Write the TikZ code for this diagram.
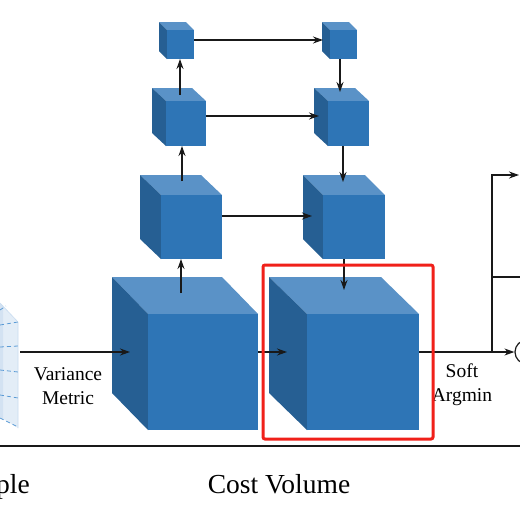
\documentclass[tikz,border=0pt]{standalone}
\usepackage{fontspec}
\setmainfont{Liberation Serif}
\usetikzlibrary{arrows.meta}
\definecolor{frontc}{HTML}{2E75B6}
\definecolor{topc}{HTML}{5A92C7}
\definecolor{sidec}{HTML}{265F93}
\definecolor{planec}{HTML}{DDE9F6}
\definecolor{planedk}{HTML}{C9DCF0}
\definecolor{dashc}{HTML}{5B9BD5}
\definecolor{boxred}{HTML}{F0201A}
\tikzset{
  frontface/.style={fill=frontc, inner sep=0pt, outer sep=0pt, draw=none},
  conn/.style={draw=black!90, line width=1.2pt, -{Stealth[length=10pt,width=7pt]}},
  plainline/.style={draw=black!90, line width=1.2pt},
  lbl/.style={font=\fontsize{19.5}{24}\selectfont, align=center, inner sep=0pt},
  biglbl/.style={font=\fontsize{27.5}{32}\selectfont, inner sep=0pt},
}
\newcommand\mycube[7]{%
  \fill[topc] ({#2-#6},{#3-#7}) -- ({#4-#6},{#3-#7}) -- (#4,#3) -- (#2,#3) -- cycle;
  \fill[sidec] ({#2-#6},{#3-#7}) -- (#2,#3) -- (#2,#5) -- ({#2-#6},{#5-#7}) -- cycle;
  \node[frontface, minimum width={(#4-#2)*1pt}, minimum height={(#5-#3)*1pt}] (#1) at ({(#2+#4)/2},{(#3+#5)/2}) {};
}
\begin{document}
\begin{tikzpicture}[x=1pt,y=-1pt]
\useasboundingbox (0,0) rectangle (520,504);
\clip (0,0) rectangle (520,504);
\fill[white] (0,0) rectangle (520,504);

% planes on the left
\fill[planec, opacity=0.8] (0,303) -- (18,322) -- (18,428) -- (0,417) -- cycle;
\fill[planedk, opacity=0.6] (0,303) -- (3,306) -- (3,420) -- (0,417) -- cycle;
\draw[planedk, line width=0.6pt] (0,303) -- (18,322) -- (18,428);
\begin{scope}[dashc, line width=0.8pt, dash pattern=on 4pt off 3pt]
  \draw (0,310) -- (6,306);
  \draw (0,325) -- (18,322);
  \draw (0,347) -- (18,346);
  \draw (0,370) -- (18,372);
  \draw (0,395) -- (18,398);
  \draw (0,418) -- (18,427);
\end{scope}

% cubes
\mycube{A1}{148}{314}{258}{430}{36}{37}
\mycube{A2}{307}{314}{419}{430}{38}{37}
\mycube{B1}{161}{195}{222}{259}{21}{20}
\mycube{B2}{323}{195}{385}{259}{20}{20}
\mycube{C1}{166}{101}{206}{146}{14}{13}
\mycube{C2}{328}{101}{369}{146}{14}{13}
\mycube{D1}{167}{30}{194}{59}{8}{8}
\mycube{D2}{330}{30}{357}{59}{8}{8}

% left column (upwards)
\coordinate (a1top) at (181,293);
\draw[conn] (a1top) -- (a1top |- B1.south);
\coordinate (b1top) at (182,181);
\draw[conn] (b1top) -- (b1top |- C1.south);
\coordinate (c1top) at (180,95);
\draw[conn] (c1top) -- (c1top |- D1.south);

% right column (downwards)
\coordinate (c2top) at (340,92);
\draw[conn] (c2top |- D2.south) -- (c2top);
\coordinate (b2top) at (343,182);
\draw[conn] (b2top |- C2.south) -- (b2top);
\coordinate (a2top) at (344,290);
\draw[conn] (a2top |- B2.south) -- (a2top);

% horizontal skip connections
\coordinate (d2side) at (323,40);
\draw[conn] (D1.east |- d2side) -- (d2side);
\coordinate (c2side) at (319,116);
\draw[conn] (C1.east |- c2side) -- (c2side);
\coordinate (b2side) at (312,216);
\draw[conn] (B1.east |- b2side) -- (b2side);

% main flow
\coordinate (planeR) at (20,352);
\coordinate (a1side) at (130,352);
\draw[conn] (planeR) -- (a1side);
\coordinate (a2side) at (287,352);
\draw[conn] (A1.east |- a2side) -- (a2side);
\node[circle, draw=black!90, line width=1.2pt, minimum size=24pt, inner sep=0pt] (circ) at (527,352) {};
\draw[conn] (A2.east |- circ) -- (circ.west);
\coordinate (br) at (492,352);
\coordinate (brtop) at (492,175);
\coordinate (outtop) at (519,175);
\draw[conn] (br) -- (brtop) -- (outtop);
\coordinate (brmid) at (492,277);
\coordinate (outmid) at (521,277);
\draw[plainline] (brmid) -- (outmid);

% labels
\node[lbl] (varlbl) at (68,386) {Variance\\Metric};
\node[lbl] (softlbl) at (462,385) {Soft\\Argmin};

% red highlight
\draw[boxred, line width=3pt, rounded corners=2pt] (263,265) rectangle (433,439);

% bottom rule and captions
\coordinate (ruleL) at (0,446);
\coordinate (ruleR) at (520,446);
\draw[plainline] (ruleL) -- (ruleR);
\node[biglbl, anchor=base west] (plelbl) at (-4,493) {ple};
\node[biglbl, anchor=base] (costlbl) at (279,493) {Cost Volume};
\end{tikzpicture}
\end{document}
